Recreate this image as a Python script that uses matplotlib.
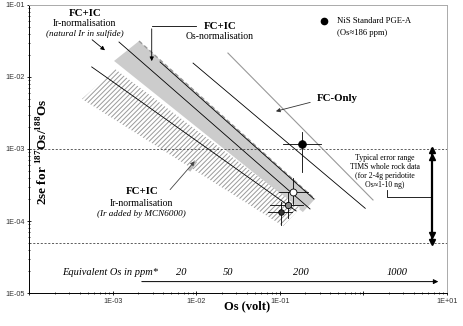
import numpy as np
import matplotlib.pyplot as plt
from matplotlib.patches import Polygon

plt.rcParams['font.family'] = ['Liberation Serif', 'DejaVu Serif']
plt.rcParams['mathtext.fontset'] = 'custom'
plt.rcParams['mathtext.rm'] = 'Liberation Serif'
plt.rcParams['mathtext.bf'] = 'Liberation Serif:bold'
plt.rcParams['hatch.linewidth'] = 0.7

# --- band outlines (Os volt, 2se) ---
os_band_x = [2.05e-3, 0.262, 0.188, 1.03e-3]
os_band_y = [3.16e-2, 2.02e-4, 1.33e-4, 1.67e-2]
ir_band_x = [1.06e-3, 0.174, 0.109, 4.25e-4]
ir_band_y = [1.29e-2, 1.51e-4, 8.5e-5, 4.95e-3]

# --- individual error lines (start / end) ---
fcic_lines_x = [[1.18e-3, 0.229], [3.66e-3, 0.255], [5.56e-4, 0.156]]
fcic_lines_y = [[3.06e-2, 1.47e-4], [1.62e-2, 2.02e-4], [1.38e-2, 1.38e-4]]
fc_gray_x = [0.0238, 1.3]
fc_gray_y = [0.0215, 1.96e-4]
fc_black_x = [9.1e-3, 1.05]
fc_black_y = [1.56e-2, 1.5e-4]

# --- measured standards ---
pts_x = [0.182, 0.144, 0.126, 0.102]
pts_y = [1.17e-3, 2.55e-4, 1.67e-4, 1.35e-4]
pts_xlo = [0.109, 0.098, 0.076, 0.0724]
pts_xhi = [0.31, 0.218, 0.187, 0.138]
pts_ylo = [4.84e-4, 1.72e-4, 1.09e-4, 8.8e-5]
pts_yhi = [1.72e-3, 3.9e-4, 2.55e-4, 1.86e-4]
pts_face = ['black', 'white', '#888888', '#333333']
pts_size = [5.5, 5, 4.5, 4]

# --- TIMS range and ppm scale ---
tims_lo, tims_hi = 5e-5, 1e-3
ppm_labels = ['20', '50', '200', '1000']
ppm_volt = [6.6e-3, 2.4e-2, 0.18, 2.5]
ppm_start, ppm_end = 2.05e-3, 8.5

fig = plt.figure(figsize=(4.63, 3.26), dpi=100)
ax = fig.add_axes([0.0637, 0.1012, 0.9017, 0.8835])
ax.set_xscale('log')
ax.set_yscale('log')
ax.set_xlim(1e-4, 1e1)
ax.set_ylim(1e-5, 1e-1)

ax.add_patch(Polygon(list(zip(os_band_x, os_band_y)), closed=True,
                     facecolor='#cccccc', edgecolor='none', zorder=1))
ax.plot(os_band_x[:2], os_band_y[:2], color='#999999', lw=1, ls=(0, (3, 2)), zorder=2)
ax.add_patch(Polygon(list(zip(ir_band_x, ir_band_y)), closed=True,
                     facecolor='white', edgecolor='#9a9a9a', hatch='/' * 7,
                     lw=0, zorder=1))

for lx, ly in zip(fcic_lines_x, fcic_lines_y):
    ax.plot(lx, ly, color='black', lw=0.6, zorder=3)
ax.plot(fc_gray_x, fc_gray_y, color='#999999', lw=0.8, zorder=3)
ax.plot(fc_black_x, fc_black_y, color='black', lw=0.6, zorder=3)

for x, y, xl, xh, yl, yh, fc, ms in zip(pts_x, pts_y, pts_xlo, pts_xhi,
                                         pts_ylo, pts_yhi, pts_face, pts_size):
    ax.plot([xl, xh], [y, y], color='black', lw=0.6, zorder=4)
    ax.plot([x, x], [yl, yh], color='black', lw=0.6, zorder=4)
    ax.plot(x, y, 'o', ms=ms, mfc=fc, mec='black', mew=0.6, zorder=5)

# dashed TIMS limits and double arrow
for yv in (tims_lo, tims_hi):
    ax.axhline(yv, color='#444444', lw=0.6, ls=(0, (2.5, 2)), zorder=2)
ax.plot([6.56, 6.56], [tims_lo, tims_hi], color='black', lw=1.6, zorder=4)
ax.plot([6.56, 6.56], [tims_hi * 0.97, tims_hi * 0.78], '^', color='black', ms=4, zorder=5)
ax.plot([6.56, 6.56], [tims_lo * 1.03, tims_lo * 1.28], 'v', color='black', ms=4, zorder=5)
ax.plot([1.91, 1.91, 6.56], [2.7e-4, 2.15e-4, 2.15e-4], color='black', lw=0.6)
ax.text(1.81, 4.9e-4, 'Typical error range\nTIMS whole rock data\n(for 2-4g peridotite\nOs≈1-10 ng)',
        ha='center', va='center', fontsize=5.6, linespacing=1.15)

# equivalent ppm scale
ax.annotate('', xy=(ppm_end, 1.44e-5), xytext=(ppm_start, 1.44e-5),
            arrowprops=dict(arrowstyle='-|>', color='black', lw=0.7,
                            mutation_scale=7))
ax.text(9.2e-4, 1.91e-5, 'Equivalent Os in ppm*', ha='center', va='center',
        style='italic', fontsize=7.5)
for lab, xv in zip(ppm_labels, ppm_volt):
    ax.text(xv, 1.95e-5, lab, ha='center', va='center', style='italic', fontsize=7.5)

# legend for the standard
ax.plot(0.336, 0.0594, 'o', color='black', ms=4.5)
ax.text(0.482, 0.06, 'NiS Standard PGE-A', fontsize=6.2, va='center')
ax.text(0.482, 0.0405, '(Os≈186 ppm)', fontsize=6.2, va='center')

# annotations
ax.text(4.6e-4, 0.075, 'FC+IC', fontsize=7.8, weight='bold', ha='center', va='center')
ax.text(4.6e-4, 0.0545, 'Ir-normalisation', fontsize=7, ha='center', va='center')
ax.text(4.6e-4, 0.0396, '(natural Ir in sulfide)', fontsize=6.6, style='italic',
        ha='center', va='center')
ax.annotate('', xy=(8.5e-4, 0.0222), xytext=(5.3e-4, 0.0348),
            arrowprops=dict(arrowstyle='-|>', color='black', lw=0.6, mutation_scale=6))

ax.text(0.0191, 0.051, 'FC+IC', fontsize=7.8, weight='bold', ha='center', va='center')
ax.text(0.0191, 0.0363, 'Os-normalisation', fontsize=7, ha='center', va='center')
ax.plot([9.8e-3, 2.91e-3], [0.051, 0.051], color='black', lw=0.6)
ax.annotate('', xy=(2.91e-3, 0.0152), xytext=(2.91e-3, 0.051),
            arrowprops=dict(arrowstyle='-|>', color='black', lw=0.6, mutation_scale=6))

ax.text(0.482, 5.1e-3, 'FC-Only', fontsize=7.8, weight='bold', ha='center', va='center')
ax.annotate('', xy=(0.083, 3.27e-3), xytext=(0.248, 4.54e-3),
            arrowprops=dict(arrowstyle='-|>', color='#333333', lw=0.6, mutation_scale=6))

ax.text(2.21e-3, 2.55e-4, 'FC+IC', fontsize=7.8, weight='bold', ha='center', va='center')
ax.text(2.21e-3, 1.76e-4, 'Ir-normalisation', fontsize=7, ha='center', va='center')
ax.text(2.21e-3, 1.25e-4, '(Ir added by MCN6000)', fontsize=6.6, style='italic',
        ha='center', va='center')
ax.plot([8.1e-3, 9.8e-3], [5.0e-4, 6.8e-4], color='#bbbbbb', lw=2.5, zorder=3,
        solid_capstyle='butt')
ax.annotate('', xy=(0.01, 7.2e-4), xytext=(4.59e-3, 2.55e-4),
            arrowprops=dict(arrowstyle='-|>', color='#444444', lw=0.6, mutation_scale=6),
            zorder=4)

ax.text(1.45e-4, 9.1e-4, r'2se for $^{\mathbf{187}}$Os/$^{\mathbf{188}}$Os', rotation=90,
        fontsize=9.5, weight='bold', ha='center', va='center')
fig.text(0.533, 0.06, 'Os (volt)', fontsize=9, weight='bold', ha='center', va='center')

# axes styling
ax.set_xticks([1e-4, 1e-3, 1e-2, 1e-1, 1, 10])
ax.set_xticklabels(['', '1E-03', '1E-02', '1E-01', '', '1E+01'])
ax.set_yticks([1e-5, 1e-4, 1e-3, 1e-2, 1e-1])
ax.set_yticklabels(['1E-05', '1E-04', '1E-03', '1E-02', '1E-01'])
for lab in ax.get_xticklabels() + ax.get_yticklabels():
    lab.set_family('Liberation Sans')
    lab.set_fontsize(5.2)
    lab.set_color('#333333')
ax.tick_params(which='major', length=3, width=0.6, direction='inout', pad=2)
ax.tick_params(which='minor', length=2, width=0.5, direction='inout')
ax.spines['top'].set_color('#aaaaaa')
ax.spines['right'].set_color('#aaaaaa')
for s in ax.spines.values():
    s.set_linewidth(0.7)

fig.savefig('out.png', dpi=100)
